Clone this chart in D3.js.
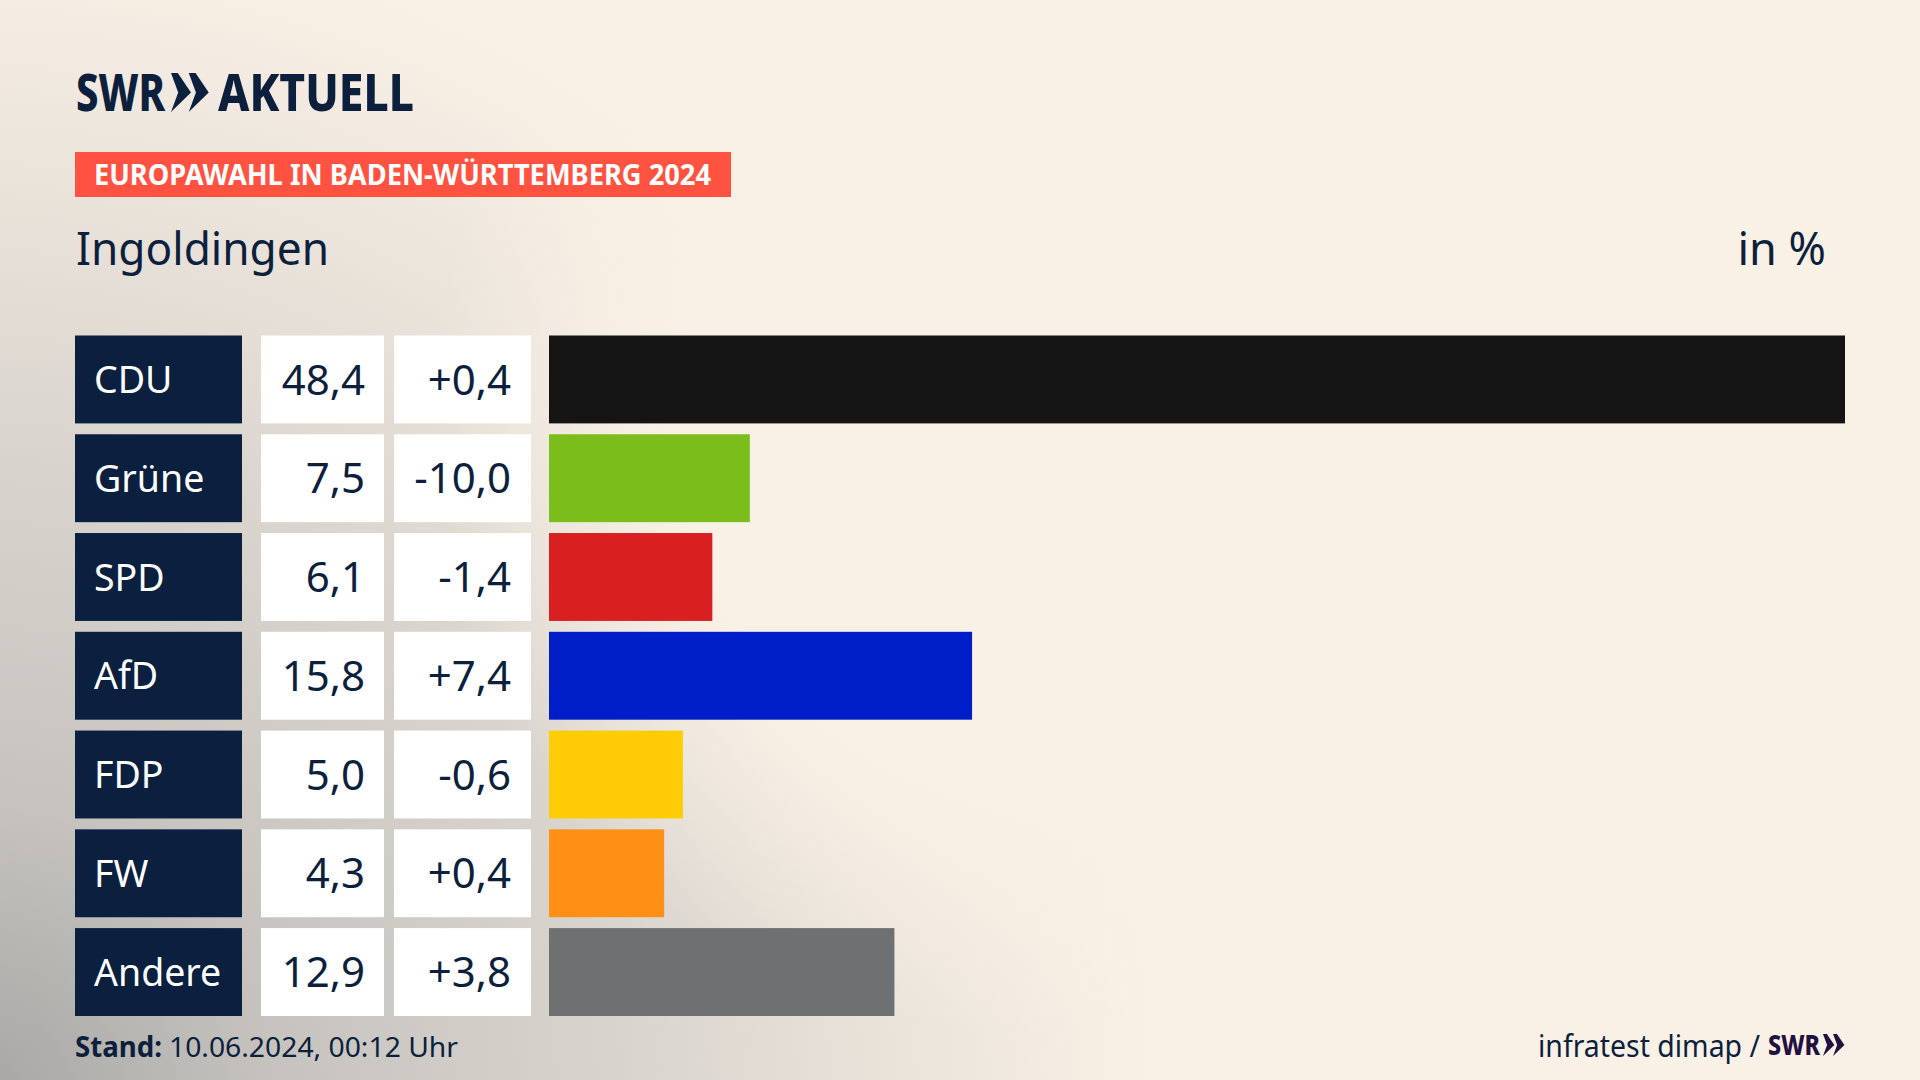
<!DOCTYPE html>
<html>
<head>
<meta charset="utf-8">
<script src="https://cdn.jsdelivr.net/npm/d3@7"></script>
<style>
  html, body { margin: 0; padding: 0; background: #faf1e6; }
  svg { display: block; }
  text { font-family: "Noto Sans", sans-serif; fill: #0c1f3c; }
</style>
</head>
<body>
<svg id="chart" width="1920" height="1080"></svg>
<script>
const parties = ['CDU', 'Grüne', 'SPD', 'AfD', 'FDP', 'FW', 'Andere'];
const shares = [48.4, 7.5, 6.1, 15.8, 5.0, 4.3, 12.9];
const changes = [0.4, -10.0, -1.4, 7.4, -0.6, 0.4, 3.8];
const barColors = ['#141414', '#7bbd1a', '#d7201f', '#001ec8', '#ffcc06', '#ff9015', '#6f7072'];

const navy = '#0b1f3f';
const cream = '#faf1e6';
const svg = d3.select('#chart');
const defs = svg.append('defs');

// background: cream with a grey glow from the lower left corner
const grad = defs.append('radialGradient')
  .attr('id', 'glow')
  .attr('gradientUnits', 'userSpaceOnUse')
  .attr('cx', 0).attr('cy', 0).attr('r', 1)
  .attr('gradientTransform', 'translate(-20,1100) scale(1180,1180)');
[[0, '#a6a6a5'], [0.25, '#c6c3be'], [0.55, '#d9d4ce'], [0.8, '#ece5dc'], [1, cream]].forEach(s => {
  grad.append('stop').attr('offset', s[0]).attr('stop-color', s[1]);
});
svg.append('rect').attr('width', 1920).attr('height', 1080).attr('fill', 'url(#glow)');

// cream patch keeps the middle of the page clear of the glow
const patch = defs.append('radialGradient')
  .attr('id', 'patch')
  .attr('gradientUnits', 'userSpaceOnUse')
  .attr('cx', 1050).attr('cy', 420).attr('r', 620);
[[0.6, 1], [1, 0]].forEach(s => {
  patch.append('stop').attr('offset', s[0]).attr('stop-color', cream).attr('stop-opacity', s[1]);
});
svg.append('rect').attr('width', 1920).attr('height', 1080).attr('fill', 'url(#patch)');

// comma decimals, as in the reference
const loc = d3.formatLocale({ decimal: ',', thousands: '.', grouping: [3], currency: ['', ''], minus: '-' });
const fmtShare = loc.format('.1f');
const fmtChange = loc.format('+.1f');

const y = d3.scaleBand().domain(parties).range([335.5, 1016]).paddingInner(0.11);
const x = d3.scaleLinear().domain([0, 48.4]).range([549, 1845]);

const rows = svg.selectAll('g.row')
  .data(parties)
  .join('g')
  .attr('class', 'row')
  .attr('transform', d => `translate(0,${y(d)})`);

rows.append('rect').attr('x', 75).attr('width', 167).attr('height', y.bandwidth()).attr('fill', navy);
rows.append('rect').attr('x', 261).attr('width', 123).attr('height', y.bandwidth()).attr('fill', '#fff');
rows.append('rect').attr('x', 394).attr('width', 137).attr('height', y.bandwidth()).attr('fill', '#fff');

rows.append('text')
  .attr('x', 94).attr('y', 57.5)
  .style('font-size', '37.5px').style('fill', '#fff')
  .text(d => d);

rows.append('text')
  .attr('x', 365).attr('y', 59).attr('text-anchor', 'end')
  .style('font-size', '42px')
  .text((d, i) => fmtShare(shares[i]));

rows.append('text')
  .attr('x', 511).attr('y', 59).attr('text-anchor', 'end')
  .style('font-size', '42px')
  .text((d, i) => fmtChange(changes[i]));

rows.append('rect')
  .attr('x', x(0))
  .attr('width', (d, i) => x(shares[i]) - x(0))
  .attr('height', y.bandwidth())
  .attr('fill', (d, i) => barColors[i]);

// chevrons of the SWR logo
function chevrons(g, x0, top, h, w, color) {
  [0, 0.48].forEach(k => {
    const l = x0 + k * w;
    const cw = w * 0.54;
    const mid = top + h / 2;
    g.append('path')
      .attr('d', d3.line()([[l, top], [l + cw * 0.34, top], [l + cw, mid], [l, top + h], [l + cw * 0.36, mid]]) + 'Z')
      .attr('fill', color);
  });
}

// header
svg.append('text').attr('x', 76).attr('y', 111)
  .attr('textLength', 89).attr('lengthAdjust', 'spacingAndGlyphs')
  .style('font-size', '52px').style('font-weight', 800).text('SWR');
chevrons(svg, 171, 73, 39, 37, navy);
svg.append('text').attr('x', 218).attr('y', 111)
  .attr('textLength', 196).attr('lengthAdjust', 'spacingAndGlyphs')
  .style('font-size', '52px').style('font-weight', 800).text('AKTUELL');

svg.append('rect').attr('x', 75).attr('y', 152).attr('width', 656).attr('height', 45).attr('fill', '#ff5240');
svg.append('text').attr('x', 94).attr('y', 184.5)
  .attr('textLength', 617).attr('lengthAdjust', 'spacingAndGlyphs')
  .style('font-size', '28px').style('font-weight', 700).style('fill', '#fff')
  .text('EUROPAWAHL IN BADEN-WÜRTTEMBERG 2024');

svg.append('text').attr('x', 76).attr('y', 264.5)
  .attr('textLength', 253).attr('lengthAdjust', 'spacingAndGlyphs')
  .style('font-size', '45px').text('Ingoldingen');
svg.append('text').attr('x', 1826).attr('y', 264.5).attr('text-anchor', 'end')
  .style('font-size', '45px').text('in %');

// footer
svg.append('text').attr('x', 75).attr('y', 1057)
  .attr('textLength', 87).attr('lengthAdjust', 'spacingAndGlyphs')
  .style('font-size', '28px').style('font-weight', 700).text('Stand:');
svg.append('text').attr('x', 169).attr('y', 1057)
  .attr('textLength', 289).attr('lengthAdjust', 'spacingAndGlyphs')
  .style('font-size', '28px').text('10.06.2024, 00:12 Uhr');

svg.append('text').attr('x', 1538).attr('y', 1056.5)
  .attr('textLength', 222).attr('lengthAdjust', 'spacingAndGlyphs')
  .style('font-size', '30px').text('infratest dimap /');
svg.append('text').attr('x', 1768).attr('y', 1055)
  .attr('textLength', 52).attr('lengthAdjust', 'spacingAndGlyphs')
  .style('font-size', '28px').style('font-weight', 800).style('fill', '#231040').text('SWR');
chevrons(svg, 1823, 1034, 22, 21, '#231040');
</script>
</body>
</html>
